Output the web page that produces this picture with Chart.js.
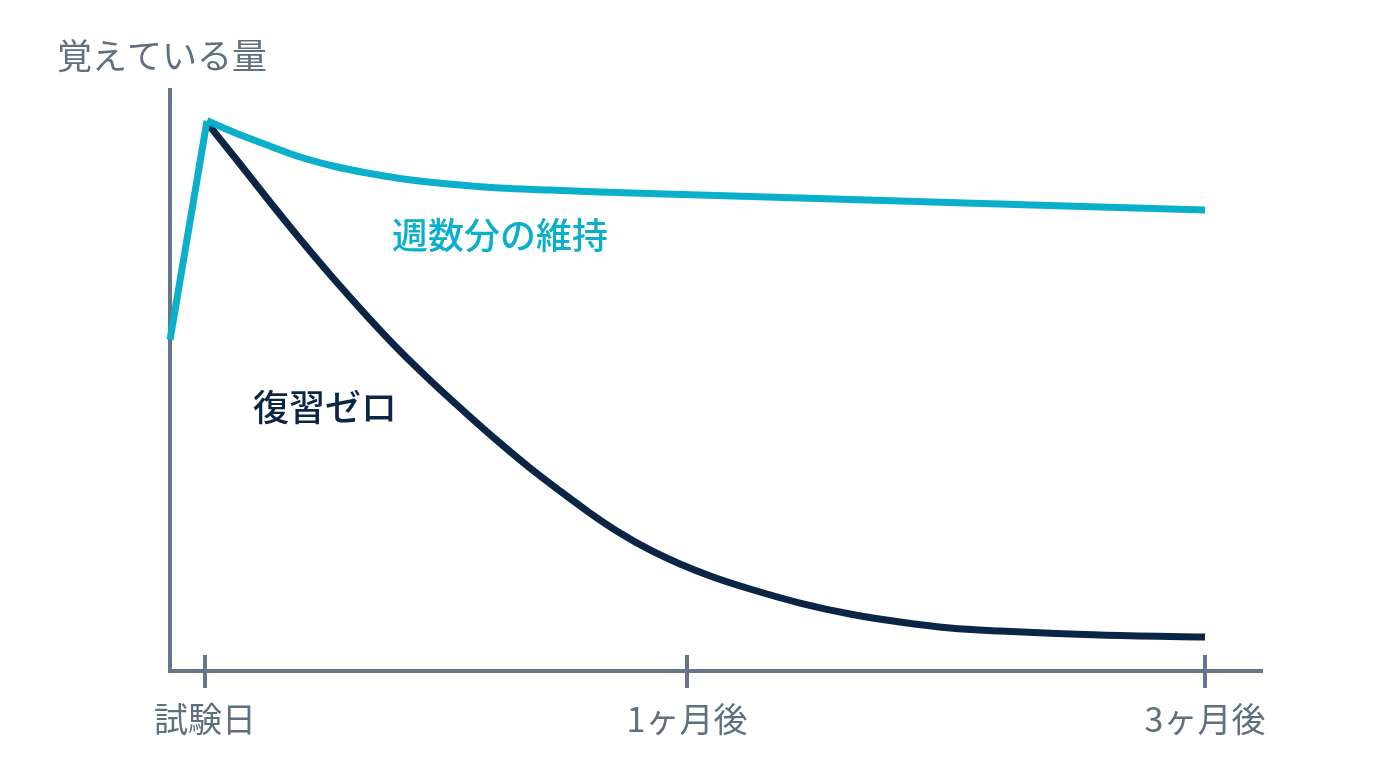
<!DOCTYPE html>
<html lang="ja">
<head>
<meta charset="utf-8">
<script src="https://cdn.jsdelivr.net/npm/chart.js@4.4.1/dist/chart.umd.min.js"></script>
<style>
  html,body{margin:0;padding:0;background:#ffffff;}
  #wrap{width:1376px;height:768px;}
</style>
</head>
<body>
<div id="wrap"><canvas id="c" width="1376" height="768"></canvas></div>
<script>
// ---- data (x: 0 = 試験日, 100 = 3ヶ月後 ; y: 覚えている量 0..100) ----
const tickValues = [0, 48.2, 100];
const tickLabels = ['試験日', '1ヶ月後', '3ヶ月後'];
const yAxisTitle = '覚えている量';

const riseX = [-3.5, 0.2];
const riseY = [57.0, 94.7];

const keepX = [0.2, 2.8, 6.2, 9.5, 12.8, 16.2, 19.5, 22.8, 26.2, 29.5, 34.5, 39.5, 49.5, 59.5, 69.5, 79.5, 89.5, 100];
const keepY = [94.7, 92.77, 90.53, 88.47, 86.92, 85.71, 84.77, 84.08, 83.56, 83.13, 82.79, 82.44, 81.93, 81.41, 80.90, 80.38, 79.86, 79.35];

const zeroX = [0.3, 3.5, 6.5, 9.5, 12.8, 16.2, 19.5, 22.8, 26.2, 29.5, 32.5, 35.5, 38.5, 41.5, 44.5, 47.5, 50.8, 54.5, 59.5, 64.5, 69.5, 74.5, 79.5, 89.5, 100];
const zeroY = [94.15, 87.26, 80.72, 74.35, 67.64, 61.10, 55.08, 49.57, 44.23, 39.24, 34.94, 30.98, 27.19, 23.75, 20.83, 18.42, 16.18, 14.11, 11.70, 9.81, 8.43, 7.40, 6.88, 6.20, 5.85];

const seriesNames = ['週数分の維持', '復習ゼロ'];
const labelAnchorX = [18.7, 4.8];
const labelAnchorY = [75.0, 45.3];

// ---- styles ----
const CYAN = '#0aafcb';
const NAVY = '#0b2645';
const AXIS = '#66768a';
const TEXT = '#5f6f80';
const FONT = '"Noto Sans CJK JP", "Noto Sans", sans-serif';

const pts = (xs, ys) => xs.map((x, i) => ({x, y: ys[i]}));

const tickMarks = {
  id: 'tickMarks',
  afterDraw(chart) {
    const {ctx, scales: {x}, chartArea} = chart;
    ctx.save();
    ctx.strokeStyle = AXIS;
    ctx.lineWidth = 4;
    tickValues.forEach(v => {
      const px = Math.round(x.getPixelForValue(v));
      ctx.beginPath();
      ctx.moveTo(px, chartArea.bottom - 16);
      ctx.lineTo(px, chartArea.bottom + 17);
      ctx.stroke();
    });
    ctx.restore();
  }
};

const seriesLabels = {
  id: 'seriesLabels',
  afterDatasetsDraw(chart) {
    const {ctx, scales: {x, y}} = chart;
    const colors = [CYAN, NAVY];
    ctx.save();
    ctx.textAlign = 'left';
    ctx.textBaseline = 'middle';
    ctx.font = '500 36px ' + FONT;
    seriesNames.forEach((name, i) => {
      ctx.fillStyle = colors[i];
      ctx.fillText(name, x.getPixelForValue(labelAnchorX[i]), y.getPixelForValue(labelAnchorY[i]));
    });
    ctx.restore();
  }
};

new Chart(document.getElementById('c'), {
  type: 'line',
  data: {
    datasets: [
      { label: seriesNames[0] + '(上昇)', data: pts(riseX, riseY), borderColor: CYAN, borderWidth: 7, tension: 0, pointRadius: 0, borderCapStyle: 'butt', clip: false },
      { label: seriesNames[0], data: pts(keepX, keepY), borderColor: CYAN, borderWidth: 7, cubicInterpolationMode: 'monotone', pointRadius: 0, borderCapStyle: 'butt', clip: false },
      { label: seriesNames[1], data: pts(zeroX, zeroY), borderColor: NAVY, borderWidth: 7, cubicInterpolationMode: 'monotone', pointRadius: 0, borderCapStyle: 'butt', clip: false }
    ]
  },
  options: {
    responsive: false,
    animation: false,
    devicePixelRatio: 1,
    layout: { padding: { left: 57, right: 114, top: 0, bottom: 0 } },
    plugins: {
      legend: { display: false },
      tooltip: { enabled: false },
      title: {
        display: true, text: yAxisTitle, align: 'start', color: TEXT,
        font: { family: FONT, size: 35, weight: '400', lineHeight: 1.2 },
        padding: { top: 35, bottom: 13 }
      }
    },
    scales: {
      x: {
        type: 'linear', min: -3.5, max: 105.7,
        grid: { display: false, drawTicks: false },
        border: { display: true, color: AXIS, width: 4 },
        afterBuildTicks: s => { s.ticks = tickValues.map(v => ({value: v})); },
        afterFit: s => { s.height = 97; },
        ticks: {
          autoSkip: false, maxRotation: 0, padding: 28, color: TEXT,
          font: { family: FONT, size: 34, weight: '400' },
          callback: (v, i) => tickLabels[i]
        }
      },
      y: {
        type: 'linear', min: 0, max: 100,
        grid: { display: false, drawTicks: false },
        border: { display: true, color: AXIS, width: 4 },
        ticks: { display: false },
        afterFit: s => { s.width = 113; }
      }
    }
  },
  plugins: [tickMarks, seriesLabels]
});
</script>
</body>
</html>
